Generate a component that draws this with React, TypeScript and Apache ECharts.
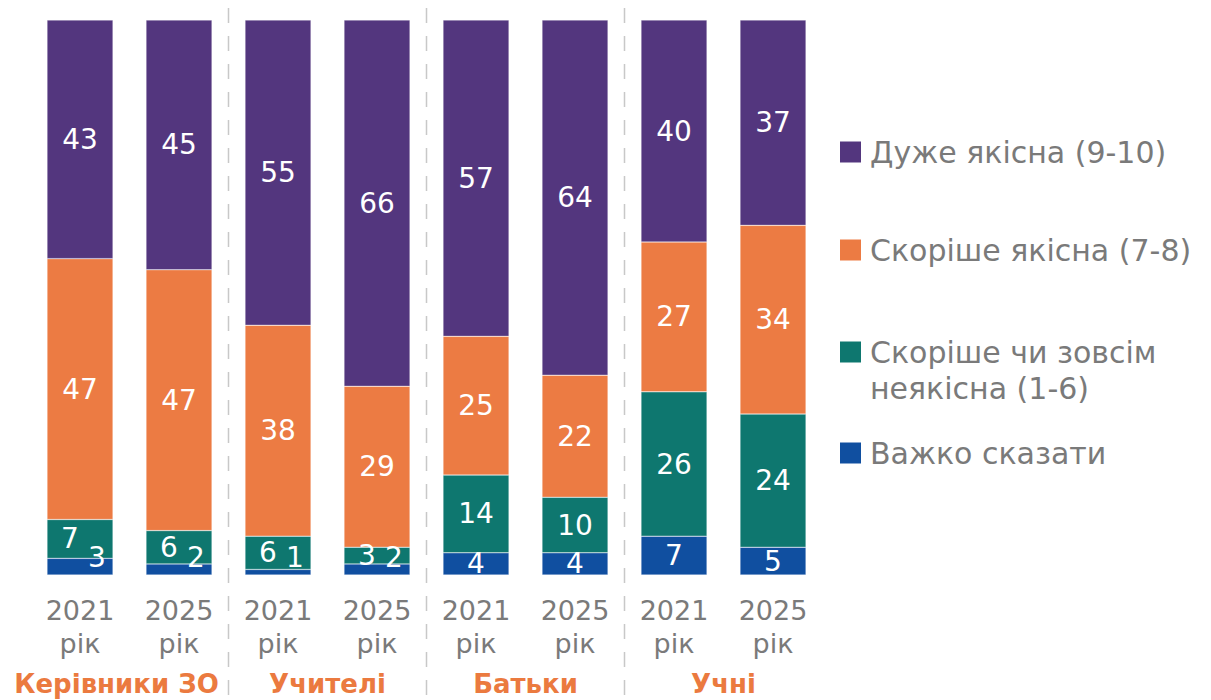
import React, { useEffect, useRef } from "react";
import * as echarts from "echarts";

const categories = ["2021\nрік", "2025\nрік", "2021\nрік", "2025\nрік", "2021\nрік", "2025\nрік", "2021\nрік", "2025\nрік"];
const groups = ["Керівники ЗО", "Учителі", "Батьки", "Учні"];
const seriesNames = ["Дуже якісна (9-10)", "Скоріше якісна (7-8)", "Скоріше чи зовсім\nнеякісна (1-6)", "Важко сказати"];
const veryGood = [43, 45, 55, 66, 57, 64, 40, 37];
const ratherGood = [47, 47, 38, 29, 25, 22, 27, 34];
const bad = [7, 6, 6, 3, 14, 10, 26, 24];
const hard = [3, 2, 1, 2, 4, 4, 7, 5];
const colors = ["#53367E", "#EC7B43", "#0E776F", "#104FA0"];

const FONT = "DejaVu Sans";
const GREY = "#7a7a7a";

export default function App() {
  const ref = useRef<HTMLDivElement>(null);
  useEffect(() => {
    document.body.style.margin = "0";
    const chart = echarts.init(ref.current!, null, { renderer: "svg" });
    const baseLabel = { show: true, color: "#fff", fontSize: 28, fontFamily: FONT };
    const mk = (name: string, vals: number[], color: string, dataFn?: (v: number, i: number) => any) => ({
      name,
      type: "bar",
      stack: "total",
      xAxisIndex: 0,
      barWidth: 66,
      itemStyle: { color, borderColor: "rgba(255,255,255,0.6)", borderWidth: 0.5 },
      label: { ...baseLabel, position: "inside" },
      data: dataFn ? vals.map(dataFn) : vals,
    });
    const series = [
      mk(seriesNames[3], hard, colors[3], (v) =>
        v <= 3 ? { value: v, label: { position: "insideBottom", distance: 0, offset: [17, -4] } } : v
      ),
      mk(seriesNames[2], bad, colors[2], (v, i) =>
        hard[i] <= 3 ? { value: v, label: { offset: [-10, 0] } } : v
      ),
      mk(seriesNames[1], ratherGood, colors[1]),
      mk(seriesNames[0], veryGood, colors[0]),
    ];
    chart.setOption({
      animation: false,
      grid: { left: 30.5, right: 388.5, top: 20, bottom: 125 },
      xAxis: [
        {
          type: "category",
          data: categories,
          axisLine: { show: false },
          axisTick: { show: false },
          axisLabel: { color: GREY, fontSize: 27, lineHeight: 33, fontFamily: FONT, margin: 19, interval: 0 },
        },
        {
          type: "category",
          data: groups.map((g, i) => (i === 0 ? { value: g, textStyle: { padding: [0, 26, 0, 0] } } : g)),
          position: "bottom",
          axisLine: { show: false },
          axisTick: { show: false },
          axisLabel: { color: "#EB7A3F", fontSize: 26, fontWeight: "bold", fontFamily: FONT, margin: 96, interval: 0 },
        },
      ],
      yAxis: { type: "value", min: 0, max: 100, show: false },
      series,
    });

    const graphic: any[] = [];
    const legendTops = [152, 250, 352, 453];
    seriesNames.forEach((n, i) => {
      graphic.push({ type: "rect", shape: { x: 840, y: legendTops[i] - 10.5, width: 21, height: 21 }, style: { fill: colors[i] } });
      graphic.push({
        type: "text",
        x: 870,
        y: legendTops[i] - 18,
        style: { text: n, fill: GREY, fontSize: 30, fontFamily: FONT, lineHeight: 36, verticalAlign: "top" },
      });
    });
    for (let k = 1; k < categories.length - 1; k += 2) {
      const a = chart.convertToPixel({ xAxisIndex: 0 }, k) as number;
      const b = chart.convertToPixel({ xAxisIndex: 0 }, k + 1) as number;
      const x = (a + b) / 2;
      graphic.push({
        type: "line",
        shape: { x1: x, y1: 8, x2: x, y2: 700 },
        style: { stroke: "#c8c8c8", lineWidth: 1.5, lineDash: [15, 13] },
      });
    }
    chart.setOption({ graphic });
    return () => chart.dispose();
  }, []);
  return <div ref={ref} style={{ width: 1211, height: 700 }} />;
}
